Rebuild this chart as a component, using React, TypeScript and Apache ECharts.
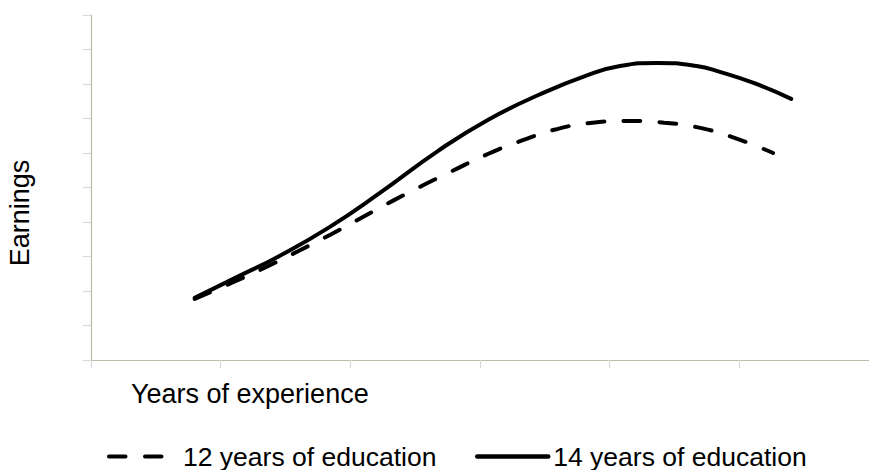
import React, { useEffect, useRef } from "react";
import * as echarts from "echarts";

// Data (x: years of experience units, y: earnings units)
const edu12X = [0.8, 1.1, 1.36, 1.6, 1.85, 2.09, 2.33, 2.58, 2.77, 3.06, 3.33, 3.58, 3.85, 4.14, 4.42, 4.67, 4.94, 5.26];
const edu12Y = [1.77, 2.26, 2.71, 3.16, 3.64, 4.13, 4.62, 5.1, 5.45, 5.97, 6.37, 6.68, 6.87, 6.93, 6.88, 6.75, 6.47, 6.0];
const edu14X = [0.8, 1.14, 1.45, 1.83, 2.22, 2.68, 3.06, 3.45, 3.83, 4.08, 4.37, 4.67, 4.85, 5.11, 5.4];
const edu14Y = [1.8, 2.43, 3.01, 3.83, 4.82, 6.07, 6.96, 7.68, 8.26, 8.52, 8.61, 8.52, 8.35, 8.03, 7.57];

const seriesNames = ["12 years of education", "14 years of education"];
const xAxisTitle = "Years of experience";
const yAxisTitle = "Earnings";

const FONT = "'Liberation Sans', Arial, sans-serif";
const FS = 27;
const LEGEND_FS = 26.5;

export default function App() {
  const ref = useRef<HTMLDivElement>(null);
  useEffect(() => {
    if (!ref.current) return;
    const chart = echarts.init(ref.current, null, { renderer: "svg" });
    const pairs = (xs: number[], ys: number[]) => xs.map((x, i) => [x, ys[i]]);
    const tickColor = "#d9d9d9";
    const axisColor = "#bfbaa5";
    chart.setOption({
      animation: false,
      backgroundColor: "#ffffff",
      grid: { left: 91, right: -4, top: 15, bottom: 110, containLabel: false },
      xAxis: {
        type: "value",
        min: 0,
        max: 6,
        interval: 1,
        axisLine: { show: true, lineStyle: { color: axisColor, width: 1.2 } },
        axisTick: { show: true, length: 8, lineStyle: { color: tickColor, width: 1.2 } },
        axisLabel: { show: false },
        splitLine: { show: false },
      },
      yAxis: {
        type: "value",
        min: 0,
        max: 10,
        interval: 1,
        axisLine: { show: true, lineStyle: { color: axisColor, width: 1.2 } },
        axisTick: { show: true, length: 8, lineStyle: { color: tickColor, width: 1.2 } },
        axisLabel: { show: false },
        splitLine: { show: false },
      },
      legend: [
        {
          data: [seriesNames[0]],
          left: 107,
          top: 443,
          padding: 0,
          itemWidth: 56,
          itemHeight: 16,
          itemStyle: { opacity: 0 },
          lineStyle: { width: 4 },
          textStyle: { fontSize: LEGEND_FS, fontFamily: FONT, color: "#000", padding: [0, 0, 0, 13] },
        },
        {
          data: [seriesNames[1]],
          left: 475,
          top: 443,
          padding: 0,
          itemWidth: 71,
          itemHeight: 16,
          itemStyle: { opacity: 0 },
          lineStyle: { width: 4.5 },
          textStyle: { fontSize: LEGEND_FS, fontFamily: FONT, color: "#000", padding: [0, 0, 0, 0] },
        },
      ],
      graphic: [
        {
          type: "text",
          left: 131,
          top: 380,
          style: { text: xAxisTitle, fontSize: FS, fontFamily: FONT, fill: "#000" },
        },
        {
          type: "text",
          x: 20,
          y: 213,
          rotation: Math.PI / 2,
          style: {
            text: yAxisTitle,
            fontSize: FS,
            fontFamily: FONT,
            fill: "#000",
            align: "center",
            verticalAlign: "middle",
          },
        },
      ],
      series: [
        {
          name: seriesNames[0],
          type: "line",
          data: pairs(edu12X, edu12Y),
          smooth: 0.5,
          symbol: "none",
          itemStyle: { color: "#000" },
          lineStyle: { color: "#000", width: 4, type: [16.5, 19.5], cap: "round" },
        },
        {
          name: seriesNames[1],
          type: "line",
          data: pairs(edu14X, edu14Y),
          smooth: 0.5,
          symbol: "none",
          itemStyle: { color: "#000" },
          lineStyle: { color: "#000", width: 4, type: "solid", cap: "round" },
        },
      ],
    });
    return () => chart.dispose();
  }, []);
  return (
    <div
      ref={ref}
      style={{ position: "absolute", left: 0, top: 0, width: 869, height: 470 }}
    />
  );
}
